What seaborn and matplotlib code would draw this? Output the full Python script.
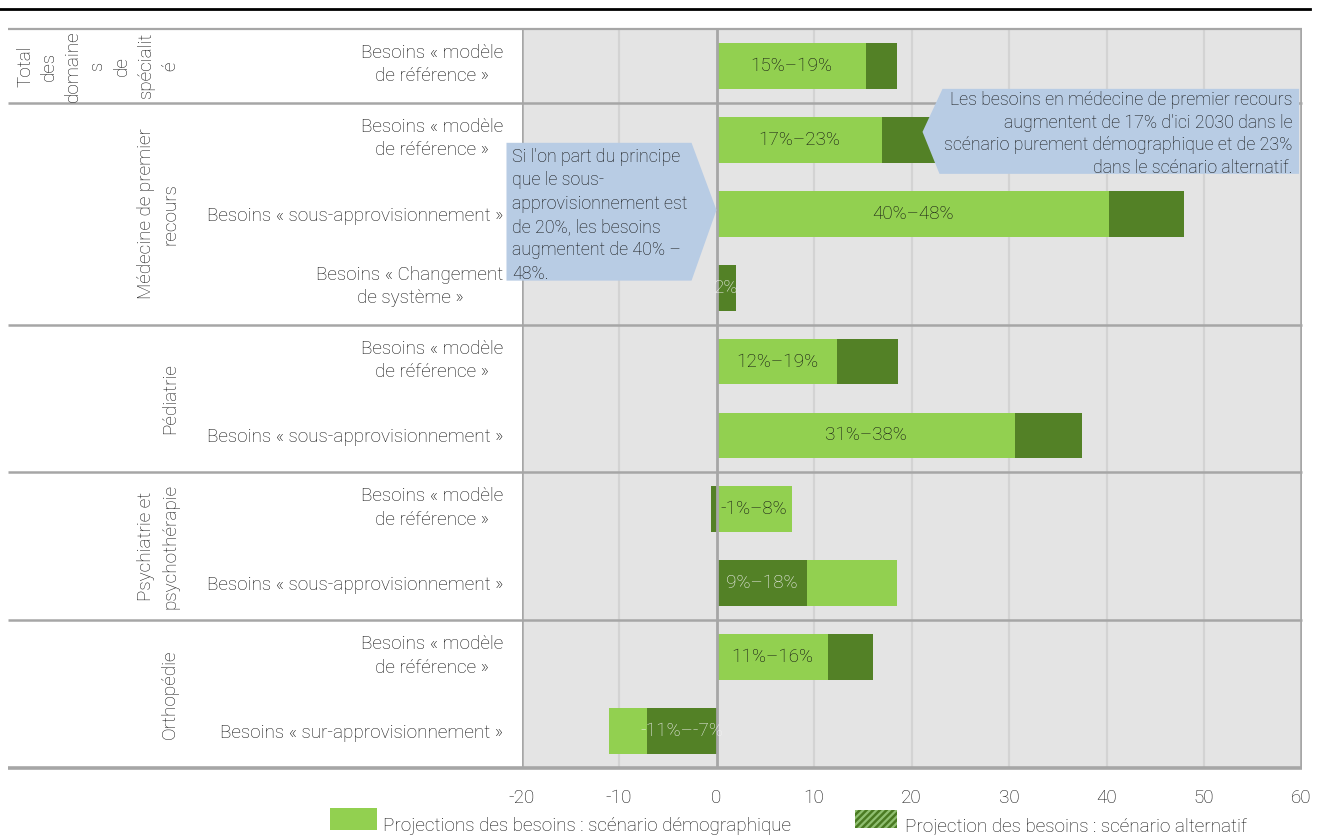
import matplotlib
matplotlib.use("Agg")
import matplotlib.pyplot as plt
from matplotlib.patches import Polygon, Rectangle
from matplotlib.lines import Line2D
from matplotlib.transforms import ScaledTranslation
import seaborn as sns
import pandas as pd

# ---------------- data ----------------
row_labels = [
    "Besoins « modèle\nde référence »",
    "Besoins « modèle\nde référence »",
    "Besoins « sous-approvisionnement »",
    "Besoins « Changement\nde système »",
    "Besoins « modèle\nde référence »",
    "Besoins « sous-approvisionnement »",
    "Besoins « modèle\nde référence »",
    "Besoins « sous-approvisionnement »",
    "Besoins « modèle\nde référence »",
    "Besoins « sur-approvisionnement »",
]
group_labels = [
    "Total\ndes\ndomaine\ns\nde\nspécialit\né",
    "Médecine de premier\nrecours",
    "Pédiatrie",
    "Psychiatrie et\npsychothérapie",
    "Orthopédie",
]
group_first_row = [0, 1, 4, 6, 8]
group_last_row = [0, 3, 5, 7, 9]

demo = [15.3, 17.0, 40.3, 2.0, 12.4, 30.6, 7.7, 18.5, 11.4, -11.0]   # scénario démographique
alt = [18.5, 22.6, 47.9, 2.0, 18.6, 37.5, -0.6, 9.3, 16.1, -7.1]     # scénario alternatif
bar_labels = ["15%–19%", "17%–23%", "40%–48%", "2%", "12%–19%",
              "31%–38%", "-1%–8%", "9%–18%", "11%–16%", "-11%–-7%"]
xticks = [-20, -10, 0, 10, 20, 30, 40, 50, 60]
legend_labels = ["Projections des besoins : scénario démographique",
                 "Projection des besoins : scénario alternatif"]
callout_left = ("Si l'on part du principe\nque le sous-\napprovisionnement est\n"
                "de 20%, les besoins\naugmentent de 40% –\n48%.")
callout_right = ("Les besoins en médecine de premier recours\n"
                 "augmentent de 17% d'ici 2030 dans le\n"
                 "scénario purement démographique et de 23%\n"
                 "dans le scénario alternatif.")

# ---------------- style ----------------
LIGHT = "#92d050"
DARK = "#538126"
BG = "#e4e4e4"
LINE = "#a6a6a6"
GRID = "#d3d3d3"
TXT = "#111111"
BLUE = "#b8cce4"
FS = 13.6
FS_CALL = 12.8
LS = 1.39

plt.rcParams['font.family'] = ['Roboto', 'DejaVu Sans']
plt.rcParams['font.weight'] = "light"

W, H = 1324, 835
fig = plt.figure(figsize=(W / 100, H / 100), dpi=100)
ax_l, ax_r, ax_t, ax_b = 521.5, 1301.5, 29, 768
ax = fig.add_axes([ax_l / W, 1 - ax_b / H, (ax_r - ax_l) / W, (ax_b - ax_t) / H])

keys = [f"r{i}" for i in range(len(demo))]
df = pd.DataFrame({"key": keys, "demo": demo, "alt": alt})

sns.barplot(data=df, x="demo", y="key", order=keys, orient="h", color=LIGHT,
            saturation=1, width=0.62, errorbar=None, linewidth=0, ax=ax)
sns.barplot(data=df, x="alt", y="key", order=keys, orient="h", color=DARK,
            saturation=1, width=0.62, errorbar=None, linewidth=0, ax=ax)

n = len(demo)
patches = ax.patches
for i in range(n):
    pd_, pa = patches[i], patches[n + i]
    if abs(alt[i]) <= abs(demo[i]):
        pa.set_zorder(3); pd_.set_zorder(2)
    else:
        pd_.set_zorder(3); pa.set_zorder(2)
    same_sign = demo[i] * alt[i] > 0
    if same_sign:
        front_alt = abs(alt[i]) <= abs(demo[i])
    else:
        front_alt = abs(alt[i]) > abs(demo[i])
    v = alt[i] if front_alt else demo[i]
    col = "#f2f2f2" if front_alt else TXT
    ax.text(v / 2, i, bar_labels[i], ha="center", va="center", fontsize=FS,
            color=col, zorder=4)

ax.set_xlim(-20, 60)
ax.set_ylim(n - 0.5, -0.5)
ax.set_facecolor(BG)
for s in ax.spines.values():
    s.set_visible(False)
ax.set_xlabel("")
ax.set_ylabel("")
ax.set_xticks(xticks)
ax.set_xticklabels([str(t) for t in xticks], fontsize=FS, color=TXT)
ax.tick_params(axis="x", length=0, pad=15)
ax.set_yticks(range(n))
ax.set_yticklabels(row_labels, fontsize=FS, color=TXT, multialignment="center",
                   linespacing=LS)
ax.tick_params(axis="y", length=0, pad=13)
up = ScaledTranslation(0, 6 / 100, fig.dpi_scale_trans)
for lbl in ax.get_yticklabels():
    if "\n" in lbl.get_text():
        lbl.set_transform(lbl.get_transform() + up)

# gridlines
for t in xticks:
    if t in (-20, 60):
        continue
    if t == 0:
        ax.axvline(0, color=LINE, lw=2, zorder=3.5)
    else:
        ax.axvline(t, color=GRID, lw=1.6, zorder=1)
ax.axvline(-20, color=LINE, lw=1.8, zorder=1)
ax.axvline(60, color=LINE, lw=2.6, zorder=1)

# table lines
left_frac = (8 - ax_l) / (ax_r - ax_l)
ytr = ax.get_yaxis_transform()
for y, lw in [(-0.5, 1.6), (0.5, 1.8), (3.5, 1.8), (5.5, 1.8), (7.5, 1.8), (n - 0.5, 2.6)]:
    ax.plot([left_frac, 1.0], [y, y], transform=ytr, clip_on=False,
            color=LINE, lw=lw, zorder=1.5, solid_capstyle="butt")

# group labels
gx = (179 - ax_l) / (ax_r - ax_l)
for lab, a, b in zip(group_labels, group_first_row, group_last_row):
    ax.text(gx, (a + b) / 2, lab, transform=ytr, rotation=90, ha="right",
            va="center", multialignment="center", fontsize=FS, color=TXT,
            linespacing=1.44, clip_on=False)

# callouts
left_poly = [(-21.54, 1.04), (-2.56, 1.04), (0, 1.95), (-2.56, 2.905), (-21.54, 2.905)]
right_poly = [(23.18, 0.31), (59.75, 0.31), (59.75, 1.46), (22.87, 1.46), (21.13, 0.892)]
for poly in (left_poly, right_poly):
    ax.add_patch(Polygon(poly, closed=True, facecolor=BLUE, edgecolor="none",
                         zorder=5, clip_on=False))
ax.text(-20.95, 2.02, callout_left, ha="left", va="center", fontsize=FS_CALL,
        color=TXT, linespacing=1.38, zorder=6, clip_on=False)
ax.text(59.1, 0.92, callout_right, ha="right", va="center", fontsize=FS_CALL,
        color=TXT, linespacing=1.33, multialignment="right", zorder=6, clip_on=False)

# top black rule
fig.add_artist(Line2D([0, 1310 / W], [1 - 9 / H, 1 - 9 / H], color="black",
                      lw=2, transform=fig.transFigure))

# legend (manual)
fig.add_artist(Rectangle((330 / W, 1 - 830 / H), 47 / W, 22 / H, facecolor=LIGHT,
                         edgecolor="none", transform=fig.transFigure))
plt.rcParams['hatch.linewidth'] = 1.6
fig.add_artist(Rectangle((855 / W, 1 - 828 / H), 42 / W, 18 / H, facecolor="#4a7a22",
                         edgecolor="#8fbf70", hatch="/////", lw=0,
                         transform=fig.transFigure))
fig.text(383 / W, 1 - 831 / H, legend_labels[0], ha="left", va="baseline",
         fontsize=FS, color=TXT)
fig.text(905 / W, 1 - 832 / H, legend_labels[1], ha="left", va="baseline",
         fontsize=FS, color=TXT)

fig.savefig("out.png", dpi=100, facecolor="white")
